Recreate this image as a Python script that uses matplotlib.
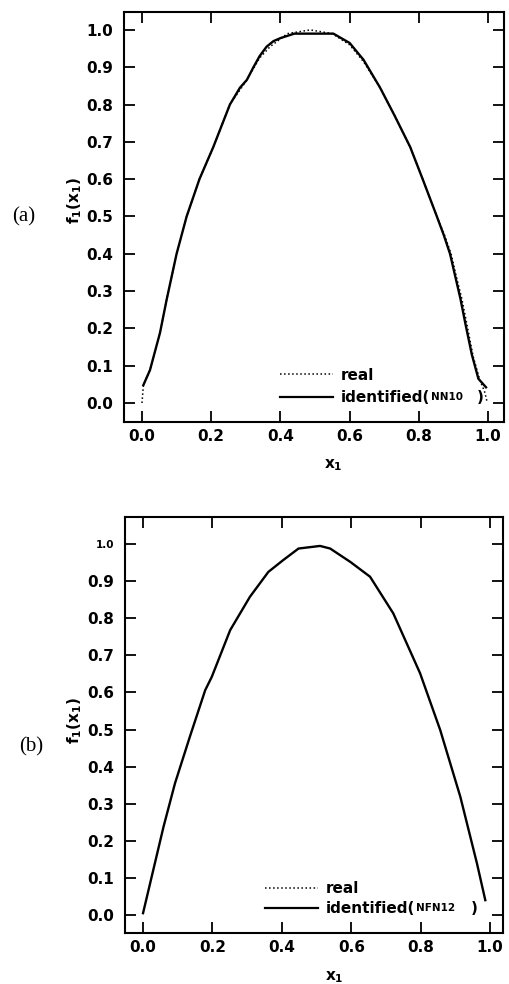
import matplotlib
matplotlib.use("Agg")
import matplotlib.pyplot as plt
from matplotlib.lines import Line2D

plt.rcParams['font.family'] = ['DejaVu Sans']
plt.rcParams['font.weight'] = 'bold'
plt.rcParams['mathtext.fontset'] = 'dejavusans'

# ---- data ----
# panel (a): real function (dotted) and NN10 identification (solid)
x_real = [0.0, 0.004, 0.023, 0.052, 0.071, 0.10, 0.129, 0.166, 0.206, 0.254,
          0.303, 0.34, 0.37, 0.42, 0.486, 0.55, 0.60, 0.64, 0.688, 0.73,
          0.775, 0.811, 0.852, 0.874, 0.893, 0.908, 0.924, 0.939, 0.957,
          0.976, 0.99, 0.998]
y_real = [0.0, 0.048, 0.088, 0.188, 0.276, 0.40, 0.50, 0.60, 0.686, 0.80,
          0.866, 0.925, 0.955, 0.99, 1.0, 0.99, 0.96, 0.915, 0.845, 0.77,
          0.686, 0.60, 0.50, 0.45, 0.40, 0.34, 0.28, 0.21, 0.124,
          0.062, 0.03, 0.0]

x_nn10 = [0.004, 0.023, 0.052, 0.071, 0.10, 0.129, 0.166, 0.206, 0.254, 0.283,
          0.303, 0.322, 0.34, 0.36, 0.38, 0.40, 0.44, 0.50, 0.553, 0.60, 0.64,
          0.688, 0.73, 0.775, 0.811, 0.852, 0.872, 0.89, 0.905, 0.92, 0.935,
          0.953, 0.972, 0.994]
y_nn10 = [0.048, 0.088, 0.188, 0.276, 0.40, 0.50, 0.60, 0.686, 0.80, 0.845,
          0.866, 0.90, 0.93, 0.955, 0.97, 0.978, 0.99, 0.99, 0.99, 0.965, 0.92,
          0.845, 0.77, 0.686, 0.60, 0.50, 0.45, 0.40, 0.34, 0.28, 0.21,
          0.13, 0.065, 0.042]

# panel (b): NFN12 identification (solid, covers the real curve)
x_nfn12 = [0.0, 0.059, 0.092, 0.135, 0.179, 0.198, 0.251, 0.308, 0.361, 0.404,
           0.448, 0.51, 0.539, 0.597, 0.654, 0.721, 0.798, 0.856, 0.914,
           0.962, 0.986]
y_nfn12 = [0.005, 0.238, 0.355, 0.481, 0.606, 0.642, 0.768, 0.858, 0.925, 0.957,
           0.988, 0.995, 0.988, 0.952, 0.912, 0.813, 0.652, 0.499, 0.319,
           0.139, 0.04]

x_ticks = [0.0, 0.2, 0.4, 0.6, 0.8, 1.0]
x_tick_labels = ["0.0", "0.2", "0.4", "0.6", "0.8", "1.0"]
y_ticks = [0.0, 0.1, 0.2, 0.3, 0.4, 0.5, 0.6, 0.7, 0.8, 0.9, 1.0]
y_tick_labels = ["0.0", "0.1", "0.2", "0.3", "0.4", "0.5", "0.6", "0.7", "0.8", "0.9", "1.0"]
panel_labels = ["(a)", "(b)"]
model_names = ["NN10", "NFN12"]
legend_labels = ["real", "identified("]

# ---- figure ----
W, H = 510, 984
fig = plt.figure(figsize=(W / 100, H / 100), dpi=100)
ax_a = fig.add_axes([124 / W, 1 - 422 / H, 380 / W, 410 / H])
ax_b = fig.add_axes([125 / W, 1 - 933 / H, 378 / W, 416 / H])

FS = 11

def style(ax, xlim, ylim):
    ax.set_xlim(*xlim)
    ax.set_ylim(*ylim)
    ax.set_xticks(x_ticks)
    ax.set_xticklabels(x_tick_labels)
    ax.set_yticks(y_ticks)
    ax.set_yticklabels(y_tick_labels)
    for s in ax.spines.values():
        s.set_linewidth(1.5)
    ax.tick_params(axis='both', direction='in', length=8, width=1.3,
                   top=True, right=True, labelsize=FS)
    ax.tick_params(axis='x', pad=5)
    ax.tick_params(axis='y', pad=8)

def legend(ax, anchor, model, spacing, gap):
    handles = [Line2D([], [], ls=':', color='k', lw=1.1),
               Line2D([], [], ls='-', color='k', lw=1.6)]
    leg = ax.legend(handles, legend_labels, loc='lower left', bbox_to_anchor=anchor,
                    frameon=False, fontsize=FS, handlelength=3.5, handletextpad=0.5,
                    labelspacing=spacing, borderpad=0, borderaxespad=0)
    t = leg.get_texts()[1]
    ann = ax.annotate(model, xy=(1, 0), xycoords=t, xytext=(0.5, 2.0),
                      textcoords='offset points', fontsize=7.5, ha='left',
                      va='bottom', zorder=10)
    ax.annotate(")", xy=(1, 0), xycoords=ann, xytext=(gap, -2.0),
                textcoords='offset points', fontsize=FS, ha='left',
                va='bottom', zorder=10)

# panel (a)
ax_a.plot(x_real, y_real, ls=':', color='k', lw=1.1)
ax_a.plot(x_nn10, y_nn10, ls='-', color='k', lw=1.7)
style(ax_a, (-0.052, 1.046), (-0.051, 1.048))
legend(ax_a, (0.41, 0.041), model_names[0], 0.5, 10)
ax_a.set_ylabel(r"$\mathbf{f}_{1}\mathbf{(x}_{1}\mathbf{)}$", fontsize=FS)
ax_a.yaxis.set_label_coords(-0.104, 0.54)
ax_a.set_xlabel(r"$\mathbf{x}_{1}$", fontsize=FS)
ax_a.xaxis.set_label_coords(0.55, -0.085)

# panel (b)
ax_b.plot(x_nfn12, y_nfn12, ls='-', color='k', lw=1.7)
style(ax_b, (-0.052, 1.037), (-0.0485, 1.073))
ax_b.get_yticklabels()[-1].set_fontsize(7.5)
legend(ax_b, (0.37, 0.041), model_names[1], 0.3, 11)
ax_b.set_ylabel(r"$\mathbf{f}_{1}\mathbf{(x}_{1}\mathbf{)}$", fontsize=FS)
ax_b.yaxis.set_label_coords(-0.108, 0.512)
ax_b.set_xlabel(r"$\mathbf{x}_{1}$", fontsize=FS)
ax_b.xaxis.set_label_coords(0.553, -0.088)

fig.text(24 / W, 1 - 217 / H, panel_labels[0], family='Liberation Serif',
         weight='normal', fontsize=15, ha='center', va='center')
fig.text(31 / W, 1 - 747 / H, panel_labels[1], family='Liberation Serif',
         weight='normal', fontsize=15, ha='center', va='center')

fig.canvas.draw()
fig.savefig("out.png", dpi=100)
